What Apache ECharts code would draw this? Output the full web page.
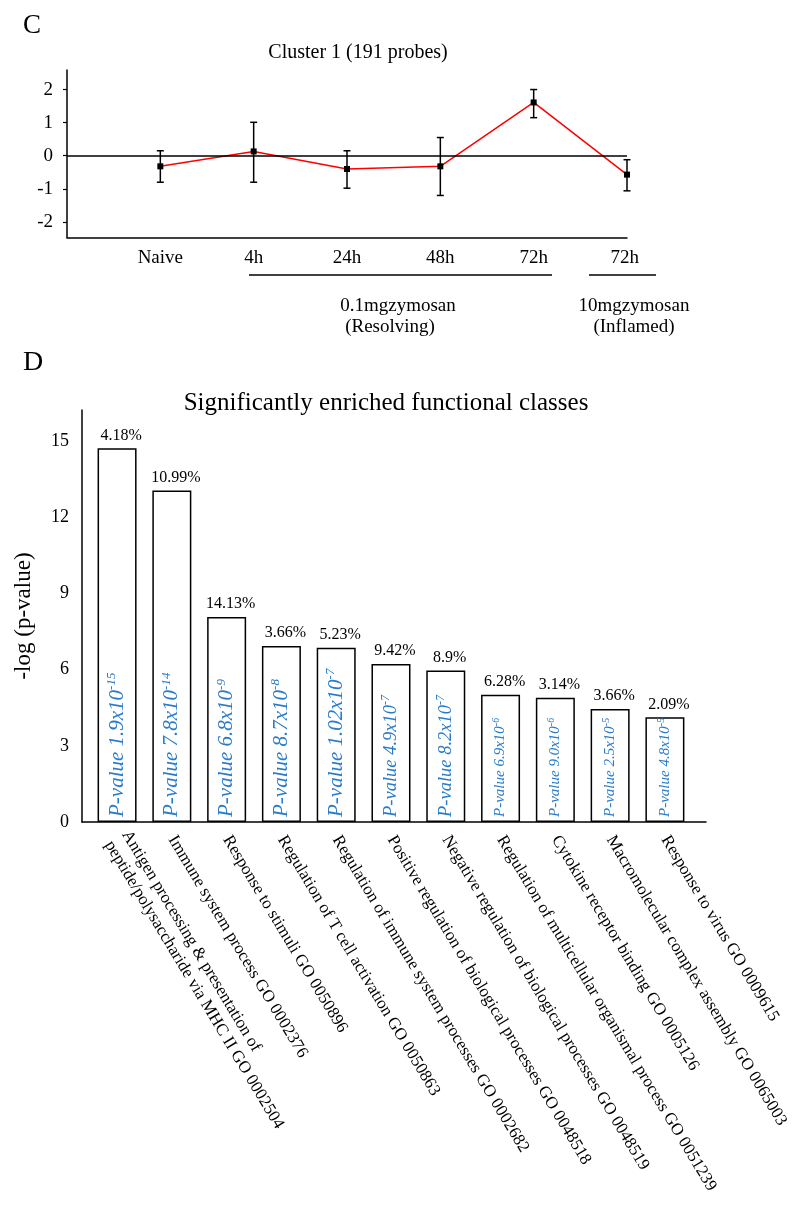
<!DOCTYPE html>
<html><head><meta charset="utf-8">
<script src="https://cdn.jsdelivr.net/npm/echarts@6/dist/echarts.min.js"></script>
<style>html,body{margin:0;padding:0;background:#fff}#c{width:800px;height:1212px}</style>
</head><body><div id="c"></div>
<script>
// ---- Panel C data ----
const timeCategories = ['', 'Naive', '4h', '24h', '48h', '72h', '72h '];
const clusterMean = [null, -0.32, 0.13, -0.40, -0.32, 1.61, -0.57];
const clusterLow  = [null, -0.80, -0.80, -0.98, -1.20, 1.15, -1.06];
const clusterHigh = [null, 0.15, 1.01, 0.15, 0.55, 2.00, -0.12];
const clusterTicks = [-2, -1, 0, 1, 2];

// ---- Panel D data ----
const goClasses = [
  'Antigen processing & presentation of\npeptide/polysaccharide via MHC II GO 0002504',
  'Immune system process GO 0002376',
  'Response to stimuli GO 0050896',
  'Regulation of T cell activation GO 0050863',
  'Regulation of immune system processes GO 0002682',
  'Positive regulation of biological processes GO 0048518',
  'Negative regulation of biological processes GO 0048519',
  'Regulation of multicellular organismal process GO 0051239',
  'Cytokine receptor binding GO 0005126',
  'Macromolecular complex assembly GO 0065003',
  'Response to virus GO 0009615'
];
const goScore = [14.71, 13.05, 8.07, 6.93, 6.86, 6.22, 5.96, 5.01, 4.89, 4.45, 4.12];
const goPercent = ['4.18%', '10.99%', '14.13%', '3.66%', '5.23%', '9.42%', '8.9%', '6.28%', '3.14%', '3.66%', '2.09%'];
const pBase = ['1.9', '7.8', '6.8', '8.7', '1.02', '4.9', '8.2', '6.9', '9.0', '2.5', '4.8'];
const pExp = ['-15', '-14', '-9', '-8', '-7', '-7', '-7', '-6', '-6', '-5', '-5'];
const scoreTicks = [0, 3, 6, 9, 12, 15];

// style only: label size class per bar
const pLabelClass = ['L', 'L', 'L', 'L', 'L', 'M', 'M', 'S', 'S', 'S', 'S'];

const FONT = '"Liberation Serif", "Times New Roman", serif';
const BLUE = '#2a7bc9';

const chart = echarts.init(document.getElementById('c'), null, {renderer: 'canvas'});

const errData = timeCategories.map((c, i) => clusterLow[i] == null ? null : [i, clusterLow[i], clusterHigh[i]]).filter(d => d);

const option = {
  backgroundColor: '#fff',
  animation: false,
  title: [
    {text: 'C', left: 23, top: 12, padding: 0, textStyle: {fontFamily: FONT, fontSize: 27, fontWeight: 'normal', color: '#000'}},
    {text: 'Cluster 1 (191 probes)', left: 358, textAlign: 'center', top: 43, padding: 0, textStyle: {fontFamily: FONT, fontSize: 20, fontWeight: 'normal', color: '#000'}},
    {text: 'D', left: 23, top: 349, padding: 0, textStyle: {fontFamily: FONT, fontSize: 28, fontWeight: 'normal', color: '#000'}},
    {text: 'Significantly enriched functional classes', left: 386, textAlign: 'center', top: 391, padding: 0, textStyle: {fontFamily: FONT, fontSize: 25, fontWeight: 'normal', color: '#000'}}
  ],
  grid: [
    {left: 67, top: 70, width: 560, height: 167.5},
    {left: 82, top: 410, width: 624, height: 412}
  ],
  xAxis: [
    {
      gridIndex: 0, type: 'category', data: timeCategories, boundaryGap: false,
      axisLine: {show: true, onZero: false, lineStyle: {color: '#000', width: 1.5}},
      axisTick: {show: false},
      axisLabel: {interval: 0, margin: 11, color: '#000', fontFamily: FONT, fontSize: 19},
      splitLine: {show: false}
    },
    {
      gridIndex: 1, type: 'value', min: -0.64, max: 10.75,
      axisLine: {show: true, onZero: false, lineStyle: {color: '#000', width: 1.5}},
      axisTick: {show: false},
      splitLine: {show: false},
      axisLabel: {
        customValues: goClasses.map((_, i) => i),
        formatter: v => (goClasses[v] !== undefined ? goClasses[v] : ''),
        rotate: -59, margin: 15, color: '#000', fontFamily: FONT, fontSize: 17, lineHeight: 20
      }
    }
  ],
  yAxis: [
    {
      gridIndex: 0, type: 'value', min: -2.47, max: 2.59,
      axisLine: {show: true, onZero: false, lineStyle: {color: '#000', width: 1.5}},
      axisTick: {show: true, customValues: clusterTicks, length: 4, lineStyle: {color: '#000', width: 1.2}},
      axisLabel: {customValues: clusterTicks, margin: 14, color: '#000', fontFamily: FONT, fontSize: 19},
      splitLine: {show: false}
    },
    {
      gridIndex: 1, type: 'value', min: 0, max: 16.22,
      name: '-log (p-value)', nameLocation: 'middle', nameRotate: 90, nameGap: 47,
      nameTextStyle: {fontFamily: FONT, fontSize: 23, color: '#000'},
      axisLine: {show: true, onZero: false, lineStyle: {color: '#000', width: 1.5}},
      axisTick: {show: false},
      axisLabel: {customValues: scoreTicks, margin: 13, color: '#000', fontFamily: FONT, fontSize: 18},
      splitLine: {show: false}
    }
  ],
  series: [
    {
      type: 'custom', xAxisIndex: 0, yAxisIndex: 0, data: errData,
      encode: {x: 0, y: [1, 2]}, z: 3,
      renderItem: (params, api) => {
        const x = api.value(0);
        const lo = api.coord([x, api.value(1)]);
        const hi = api.coord([x, api.value(2)]);
        const w = 3.5, st = {stroke: '#000', lineWidth: 1.5};
        return {type: 'group', children: [
          {type: 'line', shape: {x1: lo[0], y1: lo[1], x2: hi[0], y2: hi[1]}, style: st},
          {type: 'line', shape: {x1: lo[0] - w, y1: lo[1], x2: lo[0] + w, y2: lo[1]}, style: st},
          {type: 'line', shape: {x1: hi[0] - w, y1: hi[1], x2: hi[0] + w, y2: hi[1]}, style: st}
        ]};
      }
    },
    {
      type: 'line', xAxisIndex: 0, yAxisIndex: 0, data: clusterMean, z: 4,
      symbol: 'rect', symbolSize: 6, showSymbol: true,
      lineStyle: {color: '#ff0000', width: 1.5},
      itemStyle: {color: '#000'},
      markLine: {
        silent: true, symbol: 'none', label: {show: false},
        lineStyle: {color: '#000', width: 1.5, type: 'solid'},
        data: [{yAxis: 0}]
      }
    },
    {
      type: 'bar', xAxisIndex: 1, yAxisIndex: 1,
      data: goScore.map((v, i) => [i, v]),
      barWidth: 39, barGap: '-100%',
      itemStyle: {color: '#fff', borderColor: '#000', borderWidth: 1.5},
      label: {
        show: true, position: 'top', distance: 5, offset: [4, 0],
        formatter: p => goPercent[p.dataIndex],
        color: '#000', fontFamily: FONT, fontSize: 16
      }
    },
    {
      type: 'bar', xAxisIndex: 1, yAxisIndex: 1,
      data: goScore.map((v, i) => [i, v]),
      barWidth: 39, barGap: '-100%',
      itemStyle: {color: 'rgba(0,0,0,0)', borderWidth: 0},
      label: {
        show: true, position: 'insideBottom', distance: 5, rotate: 90,
        align: 'left', verticalAlign: 'middle',
        formatter: p => {
          const c = pLabelClass[p.dataIndex];
          return '{' + c + '|P-value ' + pBase[p.dataIndex] + 'x10}{' + c + 's|' + pExp[p.dataIndex] + '}';
        },
        rich: {
          L: {fontFamily: FONT, fontStyle: 'italic', fontSize: 21, color: BLUE, lineHeight: 24},
          Ls: {fontFamily: FONT, fontStyle: 'italic', fontSize: 13, color: BLUE, lineHeight: 13, verticalAlign: 'top'},
          M: {fontFamily: FONT, fontStyle: 'italic', fontSize: 18.5, color: BLUE, lineHeight: 22},
          Ms: {fontFamily: FONT, fontStyle: 'italic', fontSize: 12, color: BLUE, lineHeight: 12, verticalAlign: 'top'},
          S: {fontFamily: FONT, fontStyle: 'italic', fontSize: 15, color: BLUE, lineHeight: 18},
          Ss: {fontFamily: FONT, fontStyle: 'italic', fontSize: 10, color: BLUE, lineHeight: 10, verticalAlign: 'top'}
        }
      }
    }
  ],
  graphic: [
    {type: 'line', shape: {x1: 249, y1: 275, x2: 552, y2: 275}, style: {stroke: '#000', lineWidth: 1.5}},
    {type: 'line', shape: {x1: 589, y1: 275, x2: 656, y2: 275}, style: {stroke: '#000', lineWidth: 1.5}},
    {type: 'text', x: 398, y: 306, style: {text: '0.1mgzymosan', font: '19px ' + FONT, fill: '#000', textAlign: 'center', textVerticalAlign: 'middle'}},
    {type: 'text', x: 390, y: 327, style: {text: '(Resolving)', font: '19px ' + FONT, fill: '#000', textAlign: 'center', textVerticalAlign: 'middle'}},
    {type: 'text', x: 634, y: 306, style: {text: '10mgzymosan', font: '19px ' + FONT, fill: '#000', textAlign: 'center', textVerticalAlign: 'middle'}},
    {type: 'text', x: 634, y: 327, style: {text: '(Inflamed)', font: '19px ' + FONT, fill: '#000', textAlign: 'center', textVerticalAlign: 'middle'}}
  ]
};
chart.setOption(option);
</script>
</body></html>
